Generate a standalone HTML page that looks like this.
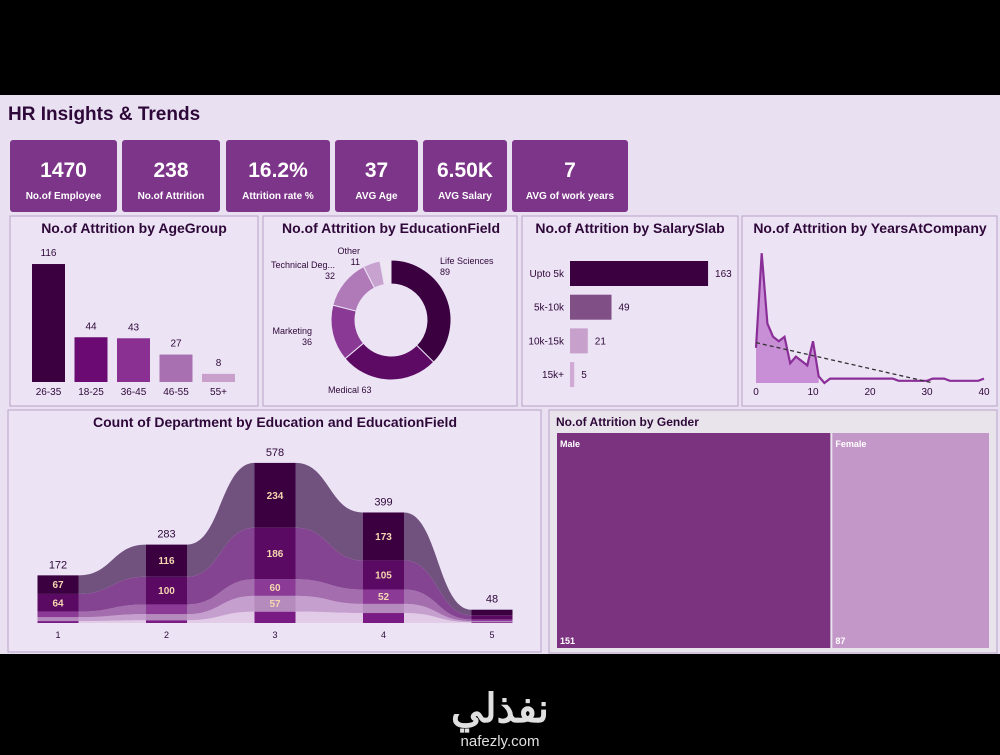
<!DOCTYPE html>
<html><head><meta charset="utf-8">
<style>
body{margin:0;width:1000px;height:750px;background:#000;overflow:hidden;font-family:"Liberation Sans",sans-serif}
svg text{font-family:"Liberation Sans","Noto Sans CJK SC",sans-serif}
</style></head><body>
<svg id="s" width="1000" height="750" viewBox="0 0 1000 750" xmlns="http://www.w3.org/2000/svg">
<rect x="0" y="95" width="1000" height="559" fill="#e9e0f2"/>
<text x="8" y="120" font-size="19" font-weight="bold" fill="#2e0838">HR Insights &amp; Trends</text>
<g id="kpis"></g>
<g>
<rect x="10" y="216" width="248" height="190" fill="#ece3f5" stroke="#b9a2c6"/>
<text x="134" y="233" text-anchor="middle" font-size="14" font-weight="bold" fill="#2e0838">No.of Attrition by AgeGroup</text>
<g id="age"></g></g>
<g>
<rect x="263" y="216" width="254" height="190" fill="#ece3f5" stroke="#b9a2c6"/>
<text x="391" y="233" text-anchor="middle" font-size="14" font-weight="bold" fill="#2e0838">No.of Attrition by EducationField</text>
<g id="donut"></g></g>
<g>
<rect x="522" y="216" width="216" height="190" fill="#ece3f5" stroke="#b9a2c6"/>
<text x="630" y="233" text-anchor="middle" font-size="14" font-weight="bold" fill="#2e0838">No.of Attrition by SalarySlab</text>
<g id="sal"></g></g>
<g>
<rect x="742" y="216" width="255" height="190" fill="#ece3f5" stroke="#b9a2c6"/>
<text x="870" y="233" text-anchor="middle" font-size="14" font-weight="bold" fill="#2e0838">No.of Attrition by YearsAtCompany</text>
<g id="yrs"></g></g>
<g>
<rect x="8" y="410" width="533" height="242" fill="#ece3f5" stroke="#b9a2c6"/>
<text x="275" y="427" text-anchor="middle" font-size="14" font-weight="bold" fill="#2e0838">Count of Department by Education and EducationField</text>
<g id="rib"></g></g>
<g>
<rect x="549" y="410" width="448" height="243" fill="#e9e4ec" stroke="#b9a2c6"/>
<text x="556" y="426" font-size="12" font-weight="bold" fill="#2e0838">No.of Attrition by Gender</text>
<g id="gen"></g></g>
<text x="500" y="722" text-anchor="middle" font-size="40" font-weight="bold" fill="#e0e0e0" font-family="'WenQuanYi Zen Hei',sans-serif">نفذلي</text>
<text x="500" y="746" text-anchor="middle" font-size="15" fill="#e0e0e0">nafezly.com</text>
</svg>
<script>
const NS="http://www.w3.org/2000/svg";
function el(p,t,a){const e=document.createElementNS(NS,t);for(const k in a)e.setAttribute(k,a[k]);p.appendChild(e);return e;}
function tx(p,x,y,s,a){const e=el(p,'text',Object.assign({x:x,y:y},a));e.textContent=s;return e;}

const kpiValues=["1470","238","16.2%","37","6.50K","7"];
const kpiLabels=["No.of Employee","No.of Attrition","Attrition rate %","AVG Age","AVG Salary","AVG of work years"];
const ageGroups=["26-35","18-25","36-45","46-55","55+"];
const ageValues=[116,44,43,27,8];
const eduFields=["Life Sciences","Medical","Marketing","Technical Deg...","Other","Human Resources"];
const eduValues=[89,63,36,32,11,7];
const salarySlabs=["Upto 5k","5k-10k","10k-15k","15k+"];
const salaryValues=[163,49,21,5];
const yearsValues=[16,59,27,21,19,21,9,12,10,8,19,3,0,2,2,2,2,2,2,2,2,2,2,2,2,1,1,1,1,1,1,2,2,2,1,1,1,1,1,1,2];
const yearTicks=[0,10,20,30,40];
const eduLevels=["1","2","3","4","5"];
const ribLS=[67,116,234,173,20];
const ribMed=[64,100,186,105,15];
const ribMkt=[20,35,60,52,6];
const ribTech=[14,22,57,33,4];
const ribOther=[7,10,41,36,3];
const genders=["Male","Female"];
const genderValues=[151,87];

// KPIs
const kg=document.getElementById('kpis');
const kx=[10,122,226,335,423,512],kw=[107,98,104,83,84,116];
kpiValues.forEach((v,i)=>{
 const r=el(kg,'rect',{x:kx[i],y:140,width:kw[i],height:72,rx:3,fill:'#7d3589'});
 
 const a=tx(kg,kx[i]+kw[i]/2,177,v,{'text-anchor':'middle','font-size':21,'font-weight':'bold',fill:'#fff'});
 
 const b=tx(kg,kx[i]+kw[i]/2,199,kpiLabels[i],{'text-anchor':'middle','font-size':10,'font-weight':'bold',fill:'#fff'});
 
});

// Age bars
const ag=document.getElementById('age');
const ageCol=['#3a0040','#6a0a72','#8a3092','#a870b0','#c9a0cc'];
const ageY=v=>382-v*1.017;
ageValues.forEach((v,i)=>{
 const x=32+i*42.5;
 const r=el(ag,'rect',{x:x,y:ageY(v),width:33,height:382-ageY(v),fill:ageCol[i]});
 
 const l=tx(ag,x+16.5,ageY(v)-8,String(v),{'text-anchor':'middle','font-size':10,fill:'#2e0838'});
 
 const c=tx(ag,x+16.5,395,ageGroups[i],{'text-anchor':'middle','font-size':10,fill:'#2e0838'});
 
});

// Donut
const dg=document.getElementById('donut');
const dCol=['#3a0040','#5c0a63','#8a3a95','#b07ab8','#c9a3cf','#eee6f3'];
const cx=391,cy=320,R=60,r0=36;
const tot=eduValues.reduce((a,b)=>a+b,0);
let ang=0;
function pt(a,rr){return [cx+rr*Math.sin(a),cy-rr*Math.cos(a)];}
eduValues.forEach((v,i)=>{
 const a0=ang,a1=ang+v/tot*2*Math.PI;ang=a1;
 const [x0,y0]=pt(a0,R),[x1,y1]=pt(a1,R),[x2,y2]=pt(a1,r0),[x3,y3]=pt(a0,r0);
 const lg=(a1-a0)>Math.PI?1:0;
 const p=el(dg,'path',{d:`M${x0},${y0}A${R},${R} 0 ${lg} 1 ${x1},${y1}L${x2},${y2}A${r0},${r0} 0 ${lg} 0 ${x3},${y3}Z`,fill:dCol[i],stroke:'#ece3f5','stroke-width':1});
 
});
const dl=[[440,264,'start',eduFields[0],'89'],[328,393,'start',eduFields[1]+' '+eduValues[1],''],[312,334,'end',eduFields[2],String(eduValues[2])],[335,268,'end',eduFields[3],String(eduValues[3])],[360,254,'end',eduFields[4],String(eduValues[4])]];
dl.forEach((d,i)=>{
 const t=tx(dg,d[0],d[1],d[3],{'text-anchor':d[2],'font-size':9,fill:'#2e0838'});
 
 if(d[4]){const u=tx(dg,i==0?440:d[0],d[1]+11,i==0?String(eduValues[0]):d[4],{'text-anchor':i==0?'start':d[2],'font-size':9,fill:'#2e0838'});
 }
});

// Salary
const sg=document.getElementById('sal');
const sCol=['#3a0040','#7f4f86','#c7a0cc','#d0aad4'];
const sW=v=>v*0.847;
salaryValues.forEach((v,i)=>{
 const y=261+i*33.7;
 const r=el(sg,'rect',{x:570,y:y,width:sW(v),height:25,fill:sCol[i]});
 
 const l=tx(sg,570+sW(v)+7,y+16,String(v),{'font-size':10,fill:'#2e0838'});
 
 const c=tx(sg,564,y+16,salarySlabs[i],{'text-anchor':'end','font-size':10,fill:'#2e0838'});
 
});

// Years line
const yg=document.getElementById('yrs');
const X=v=>756+v*5.7, Y=v=>383-v*2.2;
let area=`M${X(0)},${Y(0)}`;
for(let i=0;i<=11;i++)area+=`L${X(i)},${Y(yearsValues[i])}`;
area+=`L${X(11)},${Y(0)}Z`;
const ap=el(yg,'path',{d:area,fill:'#c98fd6'});

const lp=el(yg,'polyline',{points:yearsValues.map((v,i)=>X(i)+','+Y(v)).join(' '),fill:'none',stroke:'#8a2f98','stroke-width':2.2});

// trend (least squares)
const n=yearsValues.length;let sx=0,sy=0,sxy=0,sxx=0;
yearsValues.forEach((v,i)=>{sx+=i;sy+=v;sxy+=i*v;sxx+=i*i;});
const m=(n*sxy-sx*sy)/(n*sxx-sx*sx),b=(sy-m*sx)/n;
const xe=Math.min(40,-b/m);
const tl=el(yg,'line',{x1:X(0),y1:Y(b),x2:X(xe),y2:Y(b+m*xe),stroke:'#333','stroke-width':1.3,'stroke-dasharray':'4,3'});

yearTicks.forEach(t=>{const e=tx(yg,X(t),395,String(t),{'text-anchor':'middle','font-size':10,fill:'#2e0838'});
 });

// Ribbon
const rg=document.getElementById('rib');
const series=[ribOther,ribTech,ribMkt,ribMed,ribLS];
const ribCol=['#e0c9e6','#c39bcb','#a066aa','#7f3b8c','#6a4a78'];
const colCol=['#7a1a84','#b58abd','#8b3a96','#5a0a62','#3a0040'];
const base=623,k=0.277,CX=i=>58+i*108.5,hw=20.5;
const bounds=series.map(()=>[]);
for(let c=0;c<5;c++){let acc=0;series.forEach((s,j)=>{bounds[j][c]=[base-acc*k,base-(acc+s[c])*k];acc+=s[c];});}
series.forEach((s,j)=>{
 for(let c=0;c<4;c++){
  const xa=CX(c)+hw,xb=CX(c+1)-hw,xm=(xa+xb)/2;
  const [b0,t0]=bounds[j][c],[b1,t1]=bounds[j][c+1];
  const p=el(rg,'path',{d:`M${xa},${t0}C${xm},${t0} ${xm},${t1} ${xb},${t1}L${xb},${b1}C${xm},${b1} ${xm},${b0} ${xa},${b0}Z`,fill:ribCol[j],opacity:0.95});
  
 }
});
for(let c=0;c<5;c++){
 let total=0;
 series.forEach((s,j)=>{
  total+=s[c];
  const [b0,t0]=bounds[j][c];
  const r=el(rg,'rect',{x:CX(c)-hw,y:t0,width:hw*2,height:b0-t0,fill:colCol[j]});
  
  if(b0-t0>12&&c<4){const l=tx(rg,CX(c),(b0+t0)/2+3.5,String(s[c]),{'text-anchor':'middle','font-size':10,'font-weight':'bold',fill:'#f5d6b0'});
   }
 });
 const t=tx(rg,CX(c),base-total*k-7,String(total),{'text-anchor':'middle','font-size':11,fill:'#2e0838'});
 
 const a=tx(rg,CX(c),638,eduLevels[c],{'text-anchor':'middle','font-size':9,fill:'#2e0838'});
 
}

// Gender treemap
const gg=document.getElementById('gen');
const gt=genderValues[0]+genderValues[1],gx=557,gw=434;
let xx=gx;
const gCol=['#7b3380','#c398c8'];
genderValues.forEach((v,i)=>{
 const w=v/gt*gw;
 const r=el(gg,'rect',{x:xx,y:433,width:w-2,height:215,fill:gCol[i]});
 
 const a=tx(gg,xx+3,447,genders[i],{'font-size':9,'font-weight':'bold',fill:'#fff'});
 
 const c=tx(gg,xx+3,644,String(v),{'font-size':9,'font-weight':'bold',fill:'#fff'});
 
 xx+=w;
});
</script>
</body></html>
